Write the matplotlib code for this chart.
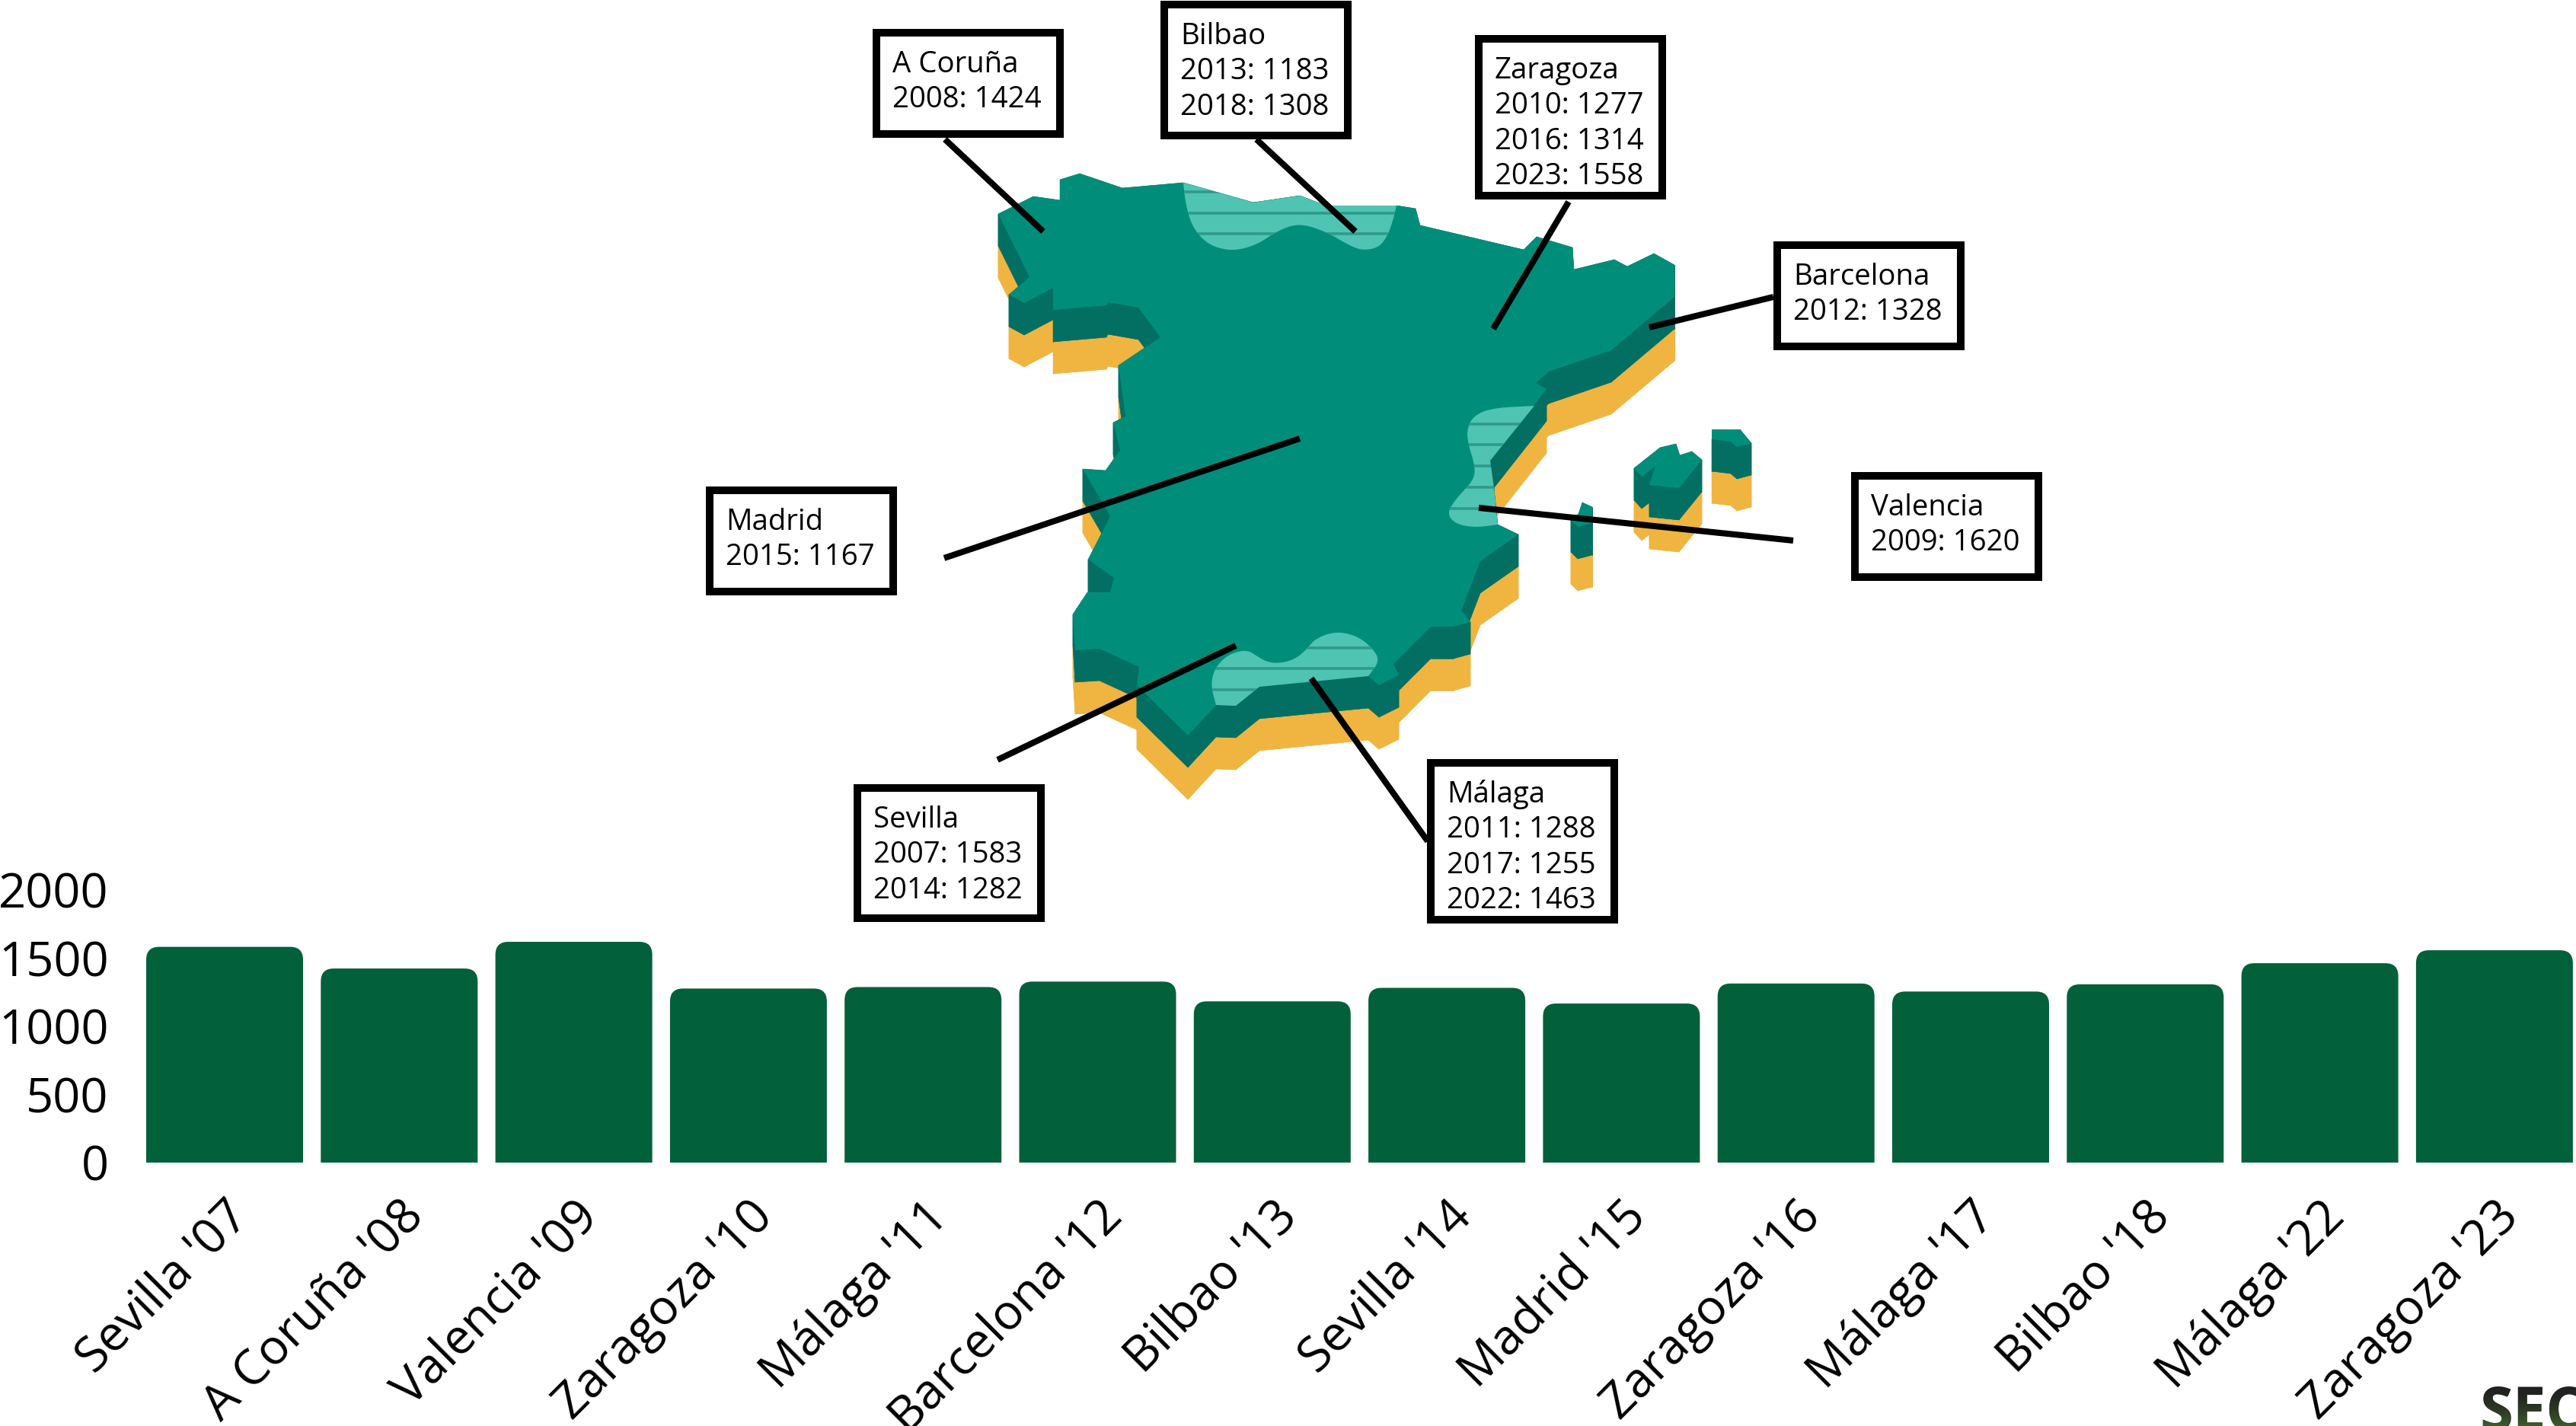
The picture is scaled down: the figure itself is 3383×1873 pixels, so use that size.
#!/usr/bin/env python
#
# Spanish host cities on a stacked map, with a bar chart of values per edition
#
import numpy as np
import matplotlib.pyplot as plt
from matplotlib.collections import PolyCollection
from matplotlib.font_manager import FontProperties
from matplotlib.patches import PathPatch, Polygon, Rectangle
from matplotlib.path import Path
from matplotlib.textpath import TextPath
from matplotlib.transforms import Affine2D

plt.rcParams['font.family'] = ['Open Sans', 'DejaVu Sans']

W, H = 3383, 1873

# Bars
cities = ['Sevilla', 'A Coruña', 'Valencia', 'Zaragoza', 'Málaga', 'Barcelona', 'Bilbao',
          'Sevilla', 'Madrid', 'Zaragoza', 'Málaga', 'Bilbao', 'Málaga', 'Zaragoza']
years = [2007, 2008, 2009, 2010, 2011, 2012, 2013, 2014, 2015, 2016, 2017, 2018, 2022, 2023]
values = [1583, 1424, 1620, 1277, 1288, 1328, 1183, 1282, 1167, 1314, 1255, 1308, 1463, 1558]
yticks = [0, 500, 1000, 1500, 2000]

# Callouts, in image pixels: box (left, top, right, bottom) and leader line
boxes = {
    'A Coruña': (1146, 38, 1397, 181),
    'Bilbao': (1524, 1, 1775, 183),
    'Zaragoza': (1937, 46, 2188, 262),
    'Barcelona': (2329, 317, 2580, 460),
    'Valencia': (2431, 620, 2682, 763),
    'Madrid': (927, 639, 1178, 782),
    'Sevilla': (1121, 1030, 1372, 1211),
    'Málaga': (1874, 997, 2125, 1213),
}
leaders = {
    'A Coruña': ((1241, 183), (1370, 304)),
    'Bilbao': ((1650, 183), (1780, 304)),
    'Zaragoza': ((2060, 265), (1961, 432)),
    'Barcelona': ((2329, 390), (2166, 430)),
    'Valencia': ((2355, 710), (1942, 667)),
    'Madrid': ((1240, 733), (1707, 576)),
    'Sevilla': ((1310, 998), (1623, 848)),
    'Málaga': ((1875, 1105), (1722, 891)),
}

# Map outlines, in image pixels
mainland = [
    (1311, 281), (1357, 258), (1392, 263), (1392, 236), (1418, 228), (1474, 247), (1554, 240),
    (1646, 266), (1707, 257), (1741, 270), (1834, 270), (1859, 274), (1865, 296), (2001, 328),
    (2018, 311), (2065, 325), (2067, 354), (2120, 341), (2137, 350), (2172, 333), (2199, 348),
    (2199, 390), (2116, 460), (2034, 488), (2017, 503), (2031, 511), (1957, 605), (1962, 641),
    (1967, 689), (1994, 702), (1944, 737), (1919, 802), (1931, 817), (1909, 823), (1879, 823),
    (1830, 872), (1837, 887), (1811, 900), (1797, 888), (1654, 902), (1623, 927), (1597, 926),
    (1560, 966), (1493, 900), (1496, 876), (1444, 852), (1412, 854), (1409, 807), (1428, 778),
    (1458, 778), (1463, 759), (1429, 735), (1447, 700), (1458, 678), (1422, 616), (1452, 618),
    (1462, 604), (1471, 591), (1462, 555), (1478, 547), (1469, 480), (1524, 443), (1495, 404),
    (1455, 397), (1453, 401), (1383, 407), (1383, 378), (1345, 398), (1325, 387), (1352, 364),
]
ibiza = [(2078, 660), (2091, 666), (2091, 687), (2072, 692), (2063, 683), (2073, 675)]
mallorca = [(2146, 615), (2180, 588), (2201, 583), (2206, 598), (2222, 593), (2235, 604),
            (2205, 641), (2166, 637), (2174, 612), (2156, 626)]
menorca = [(2248, 564), (2285, 564), (2300, 582), (2281, 587), (2273, 580), (2248, 577)]

# Bays: the part along the coast, then the curved inland part back to the start
north_coast = [(1554, 240), (1646, 266), (1707, 257), (1741, 270), (1834, 270)]
north_inland = [
    (1834, 270), (1829, 291), (1822, 310), (1811, 325), (1790, 329), (1773, 323), (1741, 304),
    (1706, 293), (1678, 303), (1650, 322), (1618, 330), (1587, 322), (1566, 299), (1557, 268),
    (1554, 240),
]
east_coast = [(2015, 533), (1957, 605), (1962, 641), (1967, 689)]
east_inland = [
    (1967, 689), (1937, 693), (1911, 688), (1900, 674), (1913, 654), (1936, 630), (1937, 612),
    (1929, 586), (1926, 566), (1934, 547), (1958, 536), (2015, 533),
]
south_coast = [(1797, 888), (1654, 902), (1623, 927), (1597, 926)]
south_inland = [
    (1597, 926), (1590, 900), (1595, 878), (1612, 860), (1637, 853), (1651, 862), (1665, 870),
    (1682, 871), (1700, 866), (1714, 855), (1728, 838), (1756, 829), (1784, 836), (1803, 852),
    (1812, 868), (1797, 888),
]
stripes_north = [252, 280, 307]
stripes_east = [557, 584, 612, 640, 668]
stripes_south = [851, 878, 906]

orange = '#f0b441'
dark = '#036f63'
teal = '#008e7b'
light = '#4fc4b2'
stripe = '#2f9a8b'
green = '#02603b'


def extrude(ax, poly):
    """ Draw a map piece with its two lower layers. """
    pts = np.array(poly, dtype=float)
    for (d0, d1), color in (((42, 84), orange), ((0, 42), dark)):
        quads = []
        for a, b in zip(pts, np.roll(pts, -1, axis=0)):
            quads.append([a + (0, d0), b + (0, d0), b + (0, d1), a + (0, d1)])
        ax.add_collection(PolyCollection(quads, facecolors=color, edgecolors=color, linewidths=0.4))
        ax.add_patch(Polygon(pts + (0, d1), fc=color, ec='none'))
    ax.add_patch(Polygon(pts, fc=teal, ec='none'))


def chaikin(points, rounds=3):
    """ Round off an open outline by cutting its corners. """
    pts = np.array(points, dtype=float)
    for i in range(rounds):
        q = 0.75 * pts[:-1] + 0.25 * pts[1:]
        r = 0.25 * pts[:-1] + 0.75 * pts[1:]
        mid = np.empty((2 * len(q), 2))
        mid[0::2], mid[1::2] = q, r
        pts = np.vstack([pts[0], mid, pts[-1]])
    return pts


def bay(ax, coast, inland, stripes):
    """ Draw a lighter region with clipped horizontal stripes. """
    outline = np.vstack([np.array(coast, dtype=float), chaikin(inland)])
    patch = Polygon(outline, fc=light, ec='none')
    ax.add_patch(patch)
    for y in stripes:
        line, = ax.plot([outline[:, 0].min(), outline[:, 0].max()], [y, y], color=stripe, lw=2.6,
                        solid_capstyle='butt')
        line.set_clip_path(patch)


def rounded_top(x0, x1, h, rx, ry):
    """ Path of a bar with rounded upper corners. """
    verts = [(x0, 0), (x0, h - ry), (x0, h), (x0 + rx, h), (x1 - rx, h), (x1, h),
             (x1, h - ry), (x1, 0), (x0, 0)]
    codes = [Path.MOVETO, Path.LINETO, Path.CURVE3, Path.CURVE3, Path.LINETO, Path.CURVE3,
             Path.CURVE3, Path.LINETO, Path.CLOSEPOLY]
    return Path(verts, codes)


fig = plt.figure(figsize=(W / 100, H / 100), dpi=100)

#
# 1. Bars
#
step = 229.3
x_left = 295 - step / 2
y_base, y_top = 1527, 1169
ax = fig.add_axes([x_left / W, 1 - y_base / H, 14 * step / W, (y_base - y_top) / H])
ax.set_xlim(-0.5, 13.5)
ax.set_ylim(0, 2000)
positions = np.arange(len(values))
width = 206 / step
rx = 17 / step
ry = 17 * 2000 / (y_base - y_top)
bars = ax.bar(positions, values, width=width, color=green)
for bar in bars:
    x0, x1 = bar.get_x(), bar.get_x() + bar.get_width()
    bar.set_visible(False)
    ax.add_patch(PathPatch(rounded_top(x0, x1, bar.get_height(), rx, ry), fc=green, ec='none'))
ax.set_yticks(yticks)
ax.set_xticks(positions)
labels = ["%s '%02d" % (c, y % 100) for c, y in zip(cities, years)]
ax.set_xticklabels(labels, rotation=45, ha='right', rotation_mode='anchor')
ax.tick_params(axis='both', length=0, colors='black')
ax.tick_params(axis='y', pad=27, labelsize=45.5)
ax.tick_params(axis='x', pad=28, labelsize=46)
for side in ax.spines:
    ax.spines[side].set_visible(False)
ax.patch.set_alpha(0)

#
# 2. Map and callouts
#
top = fig.add_axes([0, 0, 1, 1])
top.set_xlim(0, W)
top.set_ylim(H, 0)
top.axis('off')
top.patch.set_alpha(0)
extrude(top, ibiza)
extrude(top, menorca)
extrude(top, mallorca)
extrude(top, mainland)
bay(top, north_coast, north_inland, stripes_north)
bay(top, east_coast, east_inland, stripes_east)
bay(top, south_coast, south_inland, stripes_south)

for city, (l, t, r, b) in boxes.items():
    top.add_patch(Rectangle((l + 5, t + 5), r - l - 10, b - t - 10, fc='white', ec='black',
                            lw=7.2, joinstyle='miter'))
    lines = [city] + ['%d: %d' % (y, v) for c, y, v in zip(cities, years, values) if c == city]
    for i, line in enumerate(lines):
        top.text(l + 26, t + 57 + 46.3 * i, line, fontsize=27.6, ha='left', va='baseline',
                 color='black')
    (x0, y0), (x1, y1) = leaders[city]
    top.plot([x0, x1], [y0, y1], color='black', lw=5.8, solid_capstyle='butt')

#
# 3. Cut-off logo at the corner, dark at the top and green at the bottom
#
logo_x, logo_y = 3257, 1878
logo_size = 56
logo_font = FontProperties(family='Open Sans', weight='bold', size=logo_size)
top.text(logo_x, logo_y, 'SEC', fontproperties=logo_font, color='#222222', ha='left',
         va='baseline')
glyphs = TextPath((0, 0), 'SEC', size=logo_size * 100 / 72, prop=logo_font)
glyphs = glyphs.transformed(Affine2D().scale(1, -1).translate(logo_x, logo_y))
shade = np.linspace(0, 1, 64)[:, None, None] ** 1.5
shade = (1 - shade) * np.array([0x20, 0x20, 0x20]) + shade * np.array([0x3c, 0x5c, 0x2a])
image = top.imshow(shade / 255, extent=(logo_x, W, 1873, 1822), aspect='auto', zorder=5)
image.set_clip_path(glyphs, top.transData)
top.set_xlim(0, W)
top.set_ylim(H, 0)

fig.savefig('out.png', dpi=100)
